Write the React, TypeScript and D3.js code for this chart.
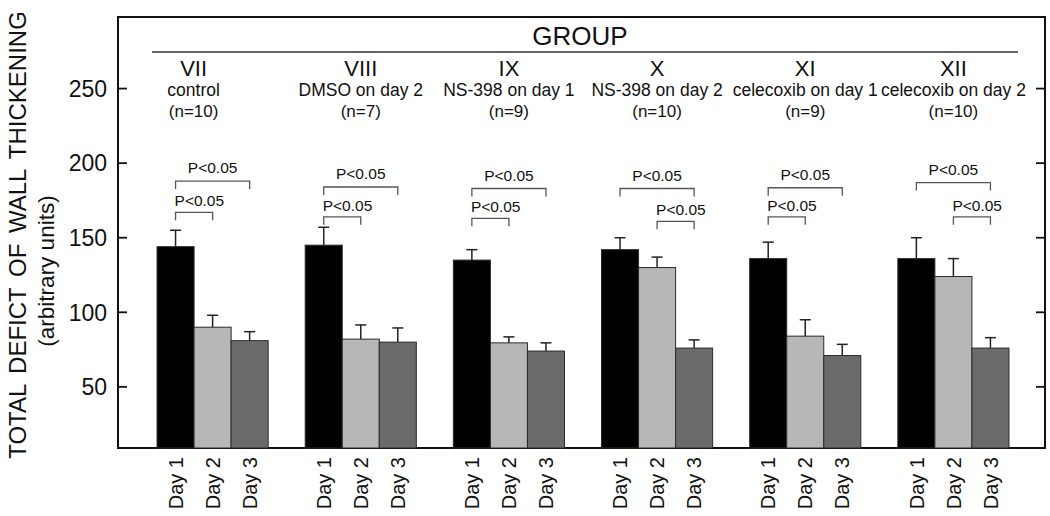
import React from 'react';
import * as d3 from 'd3';

const groups = ['VII', 'VIII', 'IX', 'X', 'XI', 'XII'];
const treatments = ['control', 'DMSO on day 2', 'NS-398 on day 1', 'NS-398 on day 2', 'celecoxib on day 1', 'celecoxib on day 2'];
const nCounts = [10, 7, 9, 10, 9, 10];
const days = ['Day 1', 'Day 2', 'Day 3'];

const day1 = [144, 145, 135, 142, 136, 136];
const day2 = [90, 82, 79.5, 130, 84, 124];
const day3 = [81, 80, 74, 76, 71, 76];
const day1Sem = [11, 12, 7, 8, 11, 14];
const day2Sem = [8, 9.5, 4, 7, 11, 12];
const day3Sem = [6, 9.5, 5.5, 5.5, 7.5, 7];

const yTicks = [50, 100, 150, 200, 250];

// significance brackets: day indexes compared + level in y units
const outerPair = [[0, 2], [0, 2], [0, 2], [0, 2], [0, 2], [0, 2]];
const outerLevel = [188, 184, 183, 183, 183.5, 187];
const innerPair = [[0, 1], [0, 1], [0, 1], [1, 2], [0, 1], [1, 2]];
const innerLevel = [167, 164, 163, 161, 164, 164];

const W = 1050;
const H = 516;
const frame = { left: 118, right: 1045, top: 17, bottom: 448 };
const font = 'Liberation Sans, Arial, Helvetica, sans-serif';
const dayFill = ['#000000', '#b7b7b7', '#6b6b6b'];

export default function App() {
  const values = [day1, day2, day3];
  const sems = [day1Sem, day2Sem, day3Sem];

  const y = d3.scaleLinear().domain([9, 298]).range([frame.bottom, frame.top]);
  const xGroup = d3
    .scaleBand()
    .domain(groups)
    .range([frame.left + 2, frame.right + 1])
    .paddingInner(0.25)
    .paddingOuter(0.25);
  const xDay = d3.scaleBand().domain(days).range([0, xGroup.bandwidth()]);
  const dayCenter = (g: string, d: number) => (xGroup(g) as number) + (xDay(days[d]) as number) + xDay.bandwidth() / 2;

  const bracket = (gi: number, pair: number[], level: number, outer: boolean, key: string) => {
    const g = groups[gi];
    const x1 = dayCenter(g, pair[0]);
    const x2 = dayCenter(g, pair[1]);
    const yy = y(level);
    const path = `M${x1},${yy + 8}V${yy}H${x2}V${yy + 8}`;
    return (
      <g key={key}>
        <path d={path} fill="none" stroke="#555" strokeWidth={1.3} />
        <text
          x={outer ? (x1 + x2) / 2 : x1 - 1}
          y={yy - (outer ? 8 : 6)}
          textAnchor={outer ? 'middle' : 'start'}
          fontSize={15.5}
          fontFamily={font}
          fill="#111"
        >
          P&lt;0.05
        </text>
      </g>
    );
  };

  return (
    <svg width={W} height={H} style={{ position: 'absolute', left: 0, top: 0, background: '#fff' }}>
      {/* frame */}
      <rect
        x={frame.left}
        y={frame.top}
        width={frame.right - frame.left}
        height={frame.bottom - frame.top}
        fill="none"
        stroke="#111"
        strokeWidth={2}
      />

      {/* y ticks, inward on both sides */}
      {yTicks.map((t) => (
        <g key={t}>
          <line x1={frame.left} x2={frame.left + 9} y1={y(t)} y2={y(t)} stroke="#111" strokeWidth={1.8} />
          <line x1={frame.right - 9} x2={frame.right} y1={y(t)} y2={y(t)} stroke="#111" strokeWidth={1.8} />
          <text x={107} y={y(t)} dy="0.36em" textAnchor="end" fontSize={23} fontFamily={font} fill="#111">
            {t}
          </text>
        </g>
      ))}

      {/* y axis title */}
      <text
        transform="translate(26,235) rotate(-90)"
        textAnchor="middle"
        fontSize={24}
        fontFamily={font}
        fill="#111"
        style={{ wordSpacing: '4px' }}
      >
        TOTAL DEFICT OF WALL THICKENING
      </text>
      <text transform="translate(54,271) rotate(-90)" textAnchor="middle" fontSize={22.5} fontFamily={font} fill="#111">
        (arbitrary units)
      </text>

      {/* group header */}
      <text x={580} y={45} textAnchor="middle" fontSize={26} fontFamily={font} fill="#111">
        GROUP
      </text>
      <line x1={152} x2={1018} y1={52} y2={52} stroke="#333" strokeWidth={1.5} />

      {groups.map((g, gi) => {
        const cx = (xGroup(g) as number) + xGroup.bandwidth() / 2 + (gi === 0 ? -19 : 0);
        return (
          <g key={g} fontFamily={font} fill="#111" textAnchor="middle">
            <text x={cx} y={76} fontSize={22}>
              {g}
            </text>
            <text x={cx} y={96} fontSize={17.5}>
              {treatments[gi]}
            </text>
            <text x={cx} y={117} fontSize={17}>
              (n={nCounts[gi]})
            </text>
          </g>
        );
      })}

      {/* bars + error bars */}
      {groups.map((g, gi) =>
        days.map((d, di) => {
          const v = values[di][gi];
          const top = v + sems[di][gi];
          const x0 = (xGroup(g) as number) + (xDay(d) as number);
          const cx = x0 + xDay.bandwidth() / 2;
          return (
            <g key={g + d}>
              <line x1={cx} x2={cx} y1={y(v)} y2={y(top)} stroke="#222" strokeWidth={1.5} />
              <line x1={cx - 5.5} x2={cx + 5.5} y1={y(top)} y2={y(top)} stroke="#222" strokeWidth={1.5} />
              <rect
                x={x0}
                y={y(v)}
                width={xDay.bandwidth()}
                height={frame.bottom - y(v)}
                fill={dayFill[di]}
                stroke="#2a2a2a"
                strokeWidth={1}
              />
              <text
                transform={`translate(${cx},457) rotate(-90)`}
                textAnchor="end"
                dy="0.36em"
                fontSize={20}
                fontFamily={font}
                fill="#111"
              >
                {d}
              </text>
            </g>
          );
        })
      )}

      {/* significance brackets */}
      {groups.map((g, gi) => (
        <g key={'br' + g}>
          {bracket(gi, outerPair[gi], outerLevel[gi], true, 'o' + g)}
          {bracket(gi, innerPair[gi], innerLevel[gi], false, 'i' + g)}
        </g>
      ))}
    </svg>
  );
}
